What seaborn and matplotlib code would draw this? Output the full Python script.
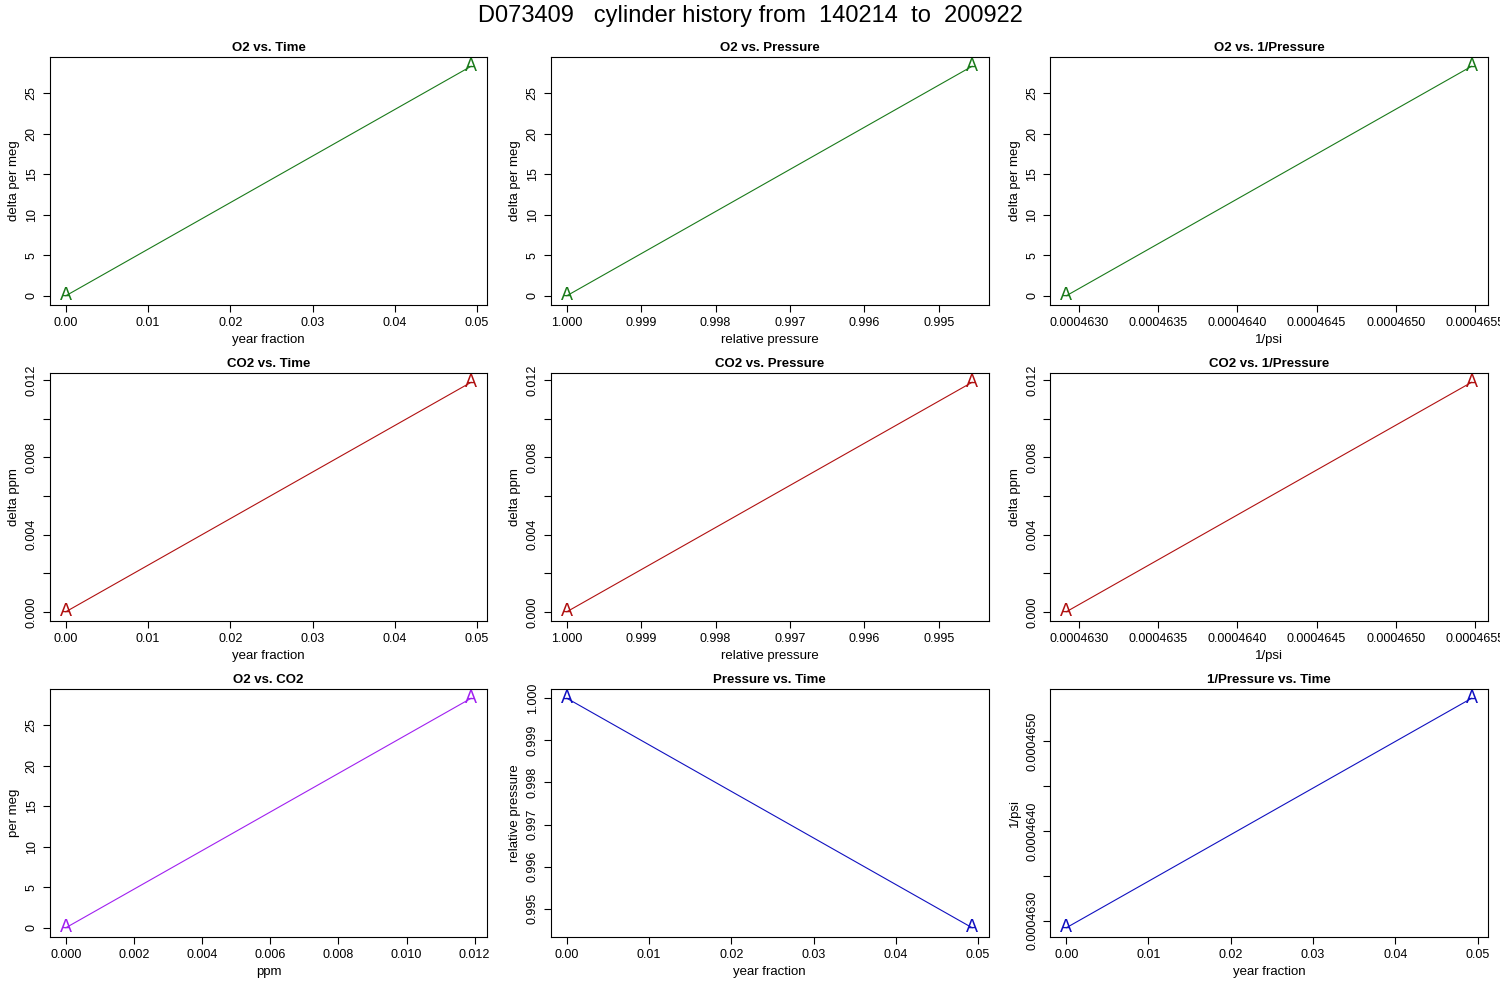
import numpy as np
import pandas as pd
import matplotlib
matplotlib.use("Agg")
import matplotlib.pyplot as plt
import seaborn as sns

# --- data ---
year_frac = [0.0, 0.0493]
o2_permeg = [0.0, 28.3]
co2_ppm = [0.0, 0.0119]
rel_press = [1.0, 0.99455]
inv_psi = [0.00046292, 0.00046548]
point_label = ["A", "A"]

GREEN, RED, PURPLE, BLUE = "#1a7a1a", "#b01010", "#a020f0", "#1010c0"

sns.set_style("ticks")
plt.rcParams["font.family"] = ["Liberation Sans", "DejaVu Sans"]
for k in ["text.color", "axes.labelcolor", "xtick.color", "ytick.color", "axes.edgecolor"]:
    plt.rcParams[k] = "black"

fig = plt.figure(figsize=(15, 10), dpi=100)
fig.suptitle("D073409   cylinder history from  140214  to  200922", fontsize=17, y=0.995)

cols = [0.033, 0.367, 0.700]
rows = [0.695, 0.379, 0.063]
W, H = 0.292, 0.248

panels = [
    ("O2 vs. Time", year_frac, o2_permeg, "year fraction", "delta per meg", GREEN),
    ("O2 vs. Pressure", rel_press, o2_permeg, "relative pressure", "delta per meg", GREEN),
    ("O2 vs. 1/Pressure", inv_psi, o2_permeg, "1/psi", "delta per meg", GREEN),
    ("CO2 vs. Time", year_frac, co2_ppm, "year fraction", "delta ppm", RED),
    ("CO2 vs. Pressure", rel_press, co2_ppm, "relative pressure", "delta ppm", RED),
    ("CO2 vs. 1/Pressure", inv_psi, co2_ppm, "1/psi", "delta ppm", RED),
    ("O2 vs. CO2", co2_ppm, o2_permeg, "ppm", "per meg", PURPLE),
    ("Pressure vs. Time", year_frac, rel_press, "year fraction", "relative pressure", BLUE),
    ("1/Pressure vs. Time", year_frac, inv_psi, "year fraction", "1/psi", BLUE),
]

ticks = {
    "year fraction": [0, 0.01, 0.02, 0.03, 0.04, 0.05],
    "relative pressure": [1.0, 0.999, 0.998, 0.997, 0.996, 0.995],
    "1/psi": [0.000463, 0.0004635, 0.000464, 0.0004645, 0.000465, 0.0004655],
    "ppm": [0, 0.002, 0.004, 0.006, 0.008, 0.010, 0.012],
    "delta per meg": [0, 5, 10, 15, 20, 25],
    "per meg": [0, 5, 10, 15, 20, 25],
    "delta ppm": [0, 0.002, 0.004, 0.006, 0.008, 0.010, 0.012],
}
fmts = {
    "year fraction": "{:.2f}", "relative pressure": "{:.3f}", "1/psi": "{:.7f}",
    "ppm": "{:.3f}", "delta per meg": "{:g}", "per meg": "{:g}", "delta ppm": "{:.3f}",
}

for i, (title, x, y, xl, yl, col) in enumerate(panels):
    ax = fig.add_axes([cols[i % 3], rows[i // 3], W, H])
    df = pd.DataFrame({"x": x, "y": y})
    sns.lineplot(data=df, x="x", y="y", ax=ax, color=col, lw=0.8, sort=False)
    for xx, yy, lab in zip(x, y, point_label):
        ax.text(xx, yy, lab, color=col, fontsize=13, ha="center", va="center")
    xr = x[1] - x[0]
    ax.set_xlim(x[0] - 0.04 * xr, x[1] + 0.04 * xr)
    yr = y[1] - y[0]
    lo, hi = min(y), max(y)
    ax.set_ylim(lo - 0.04 * abs(yr), hi + 0.04 * abs(yr))
    ax.set_xticks(ticks[xl])
    ax.set_xticklabels([fmts[xl].format(t) for t in ticks[xl]])
    if yl == "relative pressure":
        yt = [0.995, 0.996, 0.997, 0.998, 0.999, 1.0]
        ax.set_yticks(yt)
        ax.set_yticklabels(["%.3f" % t for t in yt])
    elif yl == "1/psi":
        yt = [0.000463, 0.0004635, 0.000464, 0.0004645, 0.000465]
        ax.set_yticks(yt)
        ax.set_yticklabels(["%.7f" % t if k % 2 == 0 else "" for k, t in enumerate(yt)])
    elif yl == "delta ppm":
        yt = ticks[yl]
        ax.set_yticks(yt)
        ax.set_yticklabels(["%.3f" % t if k % 2 == 0 else "" for k, t in enumerate(yt)])
    else:
        ax.set_yticks(ticks[yl])
        ax.set_yticklabels([fmts[yl].format(t) for t in ticks[yl]])
    plt.setp(ax.get_yticklabels(), rotation=90, va="center")
    ax.tick_params(labelsize=9, direction="out", length=5)
    ax.set_title(title, fontsize=9.5, fontweight="bold", pad=4)
    ax.set_xlabel(xl, fontsize=9.5)
    ax.set_ylabel(yl, fontsize=9.5)
    for s in ax.spines.values():
        s.set_visible(True)
        s.set_linewidth(0.8)

fig.savefig("out.png", dpi=100)
